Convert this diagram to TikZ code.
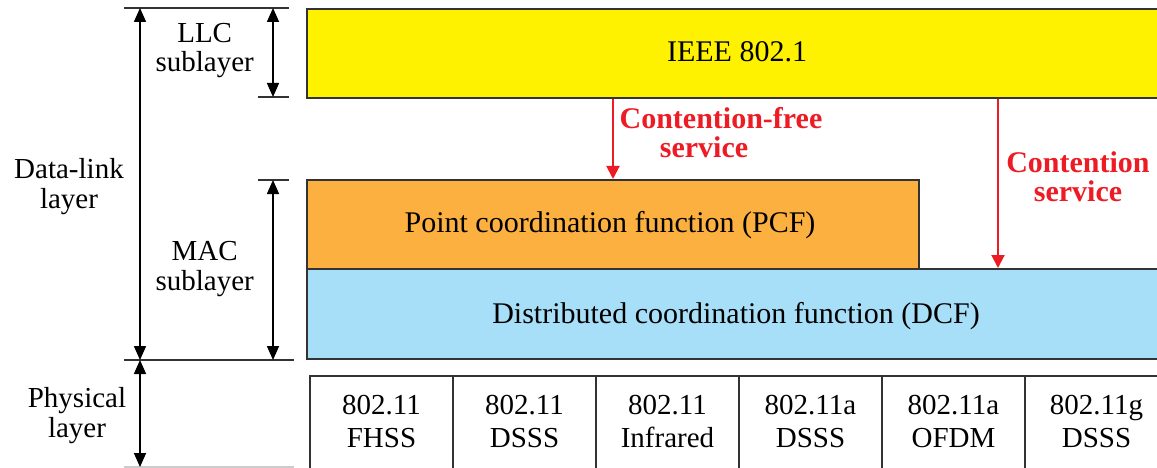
\documentclass[tikz,border=0pt]{standalone}
\usepackage{fontspec}
\setmainfont{Liberation Serif}
\usetikzlibrary{arrows.meta}
\definecolor{llcyellow}{HTML}{FFF200}
\definecolor{pcforange}{HTML}{FBB040}
\definecolor{dcfblue}{HTML}{A8DFF8}
\definecolor{svcred}{HTML}{ED1C24}
\definecolor{edgegray}{HTML}{333333}
\begin{document}
\begin{tikzpicture}[x=1pt,y=-1pt,
  txt/.style={font=\fontsize{30}{30}\selectfont, inner sep=0pt, align=center},
  sidetxt/.style={font=\fontsize{29}{29.5}\selectfont, inner sep=0pt, align=center},
  phytxt/.style={font=\fontsize{29}{33}\selectfont, inner sep=0pt, align=center},
  layerbox/.style={draw=edgegray, line width=2pt, inner sep=0pt, anchor=north west},
  phybox/.style={layerbox, fill=white, minimum width=143pt, minimum height=110pt},
  svctext/.style={text=svcred, font=\bfseries\fontsize{30}{29}\selectfont, inner sep=0pt, align=center},
  dimarrow/.style={black, line width=1.6pt, {Triangle[length=14pt,width=12pt]}-{Triangle[length=14pt,width=12pt]}},
  guide/.style={edgegray, line width=1.8pt},
  svcarrow/.style={svcred, line width=2pt, -{Triangle[length=13pt,width=13pt]}}
]
\useasboundingbox (0,0) rectangle (1157,468);
\clip (0,0) rectangle (1157,468);

% MAC and LLC boxes
\node[layerbox, fill=llcyellow, minimum width=861pt, minimum height=89pt] (ieee) at (306,8) {};
\node[txt, anchor=base] (ieeetxt) at (737,62) {IEEE 802.1};
\node[layerbox, fill=pcforange, minimum width=612pt, minimum height=89pt] (pcf) at (306,179) {};
\node[txt, anchor=base] (pcftxt) at (610,233) {Point coordination function (PCF)};
\node[layerbox, fill=dcfblue, minimum width=861pt, minimum height=90pt] (dcf) at (306,268) {};
\node[txt, anchor=base] (dcftxt) at (736,323) {Distributed coordination function (DCF)};

% physical layer boxes
\foreach \i/\a/\b in {1/802.11/FHSS, 2/802.11/DSSS, 3/802.11/Infrared,
                      4/802.11a/DSSS, 5/802.11a/OFDM, 6/802.11g/DSSS} {
  \node[phybox] (phy\i) at ({309+143*(\i-1)},375) {};
  \node[phytxt, anchor=base] (phytxt\i) at ([yshift=-72pt]phy\i.north) {\a\\\b};
}

% service arrows
\coordinate (cs) at (998,268);
\draw[svcarrow] (ieee.south -| pcf.north) -- (pcf.north);
\draw[svcarrow] (ieee.south -| cs) -- (cs);
\node[svctext, anchor=base] (cfs) at (721,158) {Contention-free\\\hspace*{-34pt}service};
\node[svctext, anchor=base] (csv) at (1078,201) {Contention\\service};

% guide lines
\coordinate (gtop) at (124,8);
\coordinate (gllc) at (258,97);
\coordinate (gmac) at (258,180);
\coordinate (gmid) at (124,360);
\coordinate (gbot) at (124,467);
\draw[guide] (gtop) -- ++(165,0);
\draw[guide] (gllc) -- ++(31,0);
\draw[guide] (gmac) -- ++(31,0);
\draw[guide] (gmid) -- ++(170,0);
\draw[guide, gray!40] (gbot) -- ++(170,0);

% dimension arrows
\coordinate (dl1) at (140,8);
\coordinate (dl2) at (140,360);
\coordinate (dl3) at (140,467);
\coordinate (ll1) at (273,8);
\coordinate (ll2) at (273,97);
\coordinate (ma1) at (273,180);
\coordinate (ma2) at (273,360);
\draw[dimarrow] (dl1) -- (dl2);
\draw[dimarrow] (dl2) -- (dl3);
\draw[dimarrow] (ll1) -- (ll2);
\draw[dimarrow] (ma1) -- (ma2);

% layer labels
\node[sidetxt, anchor=base east] (llc) at (254,72) {LLC\\sublayer};
\node[sidetxt, anchor=base] (dll) at (69,208) {Data-link\\layer};
\node[sidetxt, anchor=base east] (mac) at (254,290) {MAC\\sublayer};
\node[sidetxt, anchor=base] (phl) at (77,437) {Physical\\layer};
\end{tikzpicture}
\end{document}
